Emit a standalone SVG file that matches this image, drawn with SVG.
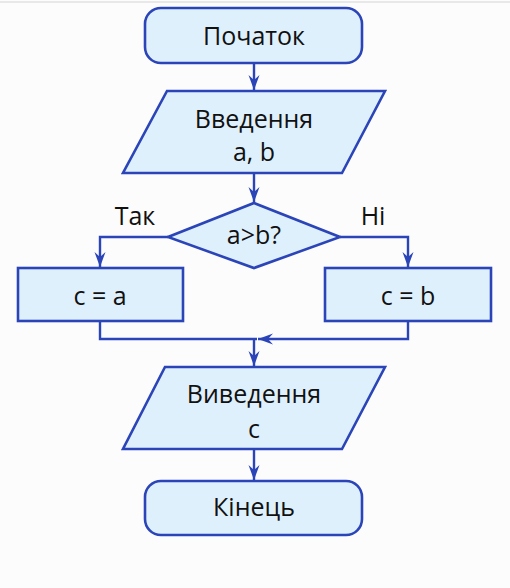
<svg xmlns="http://www.w3.org/2000/svg" width="510" height="588" viewBox="0 0 510 588">
  <defs>
    <style>
      .shape { fill: #dff0fd; stroke: #2b45b8; stroke-width: 2.6; }
      .conn { fill: none; stroke: #2b45b8; stroke-width: 2.4; }
      text { font-family: "Open Sans", "Noto Sans", "DejaVu Sans", sans-serif; font-size: 25px; fill: #111; text-anchor: middle; }
    </style>
    <marker id="arr" viewBox="-16 -6 17 12" refX="0" refY="0" markerWidth="17" markerHeight="12" markerUnits="userSpaceOnUse" orient="auto">
      <path d="M0,0 L-15,-5.5 L-10,0 L-15,5.5 Z" fill="#2b45b8"/>
    </marker>
  </defs>
  <rect x="0" y="0" width="510" height="588" fill="#fcfcfc"/>
  <line x1="0" y1="2" x2="510" y2="2" stroke="#e2e2e2" stroke-width="1.5"/>

  <g id="connectors">
    <line class="conn" x1="254" y1="63" x2="254" y2="90" marker-end="url(#arr)"/>
    <line class="conn" x1="254" y1="173" x2="254" y2="202" marker-end="url(#arr)"/>
    <polyline class="conn" points="168,237 100,237 100,267" marker-end="url(#arr)"/>
    <polyline class="conn" points="340,237 408,237 408,267" marker-end="url(#arr)"/>
    <polyline class="conn" points="100,321 100,339 257,339"/>
    <polyline class="conn" points="408,321 408,339 258,339" marker-end="url(#arr)"/>
    <line class="conn" x1="254" y1="339" x2="254" y2="366" marker-end="url(#arr)"/>
    <line class="conn" x1="254" y1="449" x2="254" y2="480" marker-end="url(#arr)"/>
  </g>

  <g id="start">
    <rect class="shape" x="145" y="8" width="217" height="55" rx="16"/>
    <text x="254" y="45">Початок</text>
  </g>

  <g id="input">
    <polygon class="shape" points="167,91 385,91 342,173 123,173"/>
    <text x="254" y="128">Введення</text>
    <text x="254" y="161">a, b</text>
  </g>

  <g id="decision">
    <polygon class="shape" points="254,203 340,237 254,268 168,237"/>
    <text x="254" y="244">a&gt;b?</text>
  </g>

  <g id="label-yes">
    <text x="135" y="225">Так</text>
  </g>
  <g id="label-no">
    <text x="373" y="225">Ні</text>
  </g>

  <g id="assign-a">
    <rect class="shape" x="18" y="268" width="165" height="53"/>
    <text x="100" y="305">c = a</text>
  </g>

  <g id="assign-b">
    <rect class="shape" x="325" y="268" width="166" height="53"/>
    <text x="408" y="305">c = b</text>
  </g>

  <g id="output">
    <polygon class="shape" points="165,367 385,367 342,449 123,449"/>
    <text x="254" y="403">Виведення</text>
    <text x="254" y="438">c</text>
  </g>

  <g id="end">
    <rect class="shape" x="145" y="481" width="217" height="54" rx="16"/>
    <text x="254" y="516">Кінець</text>
  </g>
</svg>
